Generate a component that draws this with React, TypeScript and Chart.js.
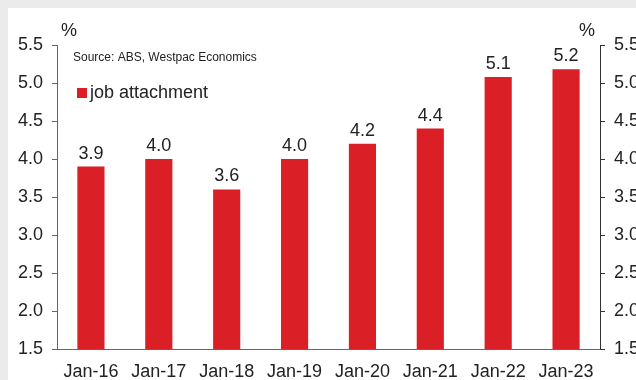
import React, { useEffect, useRef } from "react";
import { Chart, registerables } from "chart.js";

Chart.register(...registerables);

const categories = ["Jan-16", "Jan-17", "Jan-18", "Jan-19", "Jan-20", "Jan-21", "Jan-22", "Jan-23"];
const jobAttachment = [3.9, 4.0, 3.6, 4.0, 4.2, 4.4, 5.08, 5.18];
const seriesName = "job attachment";
const sourceText = "Source: ABS, Westpac Economics";
const yMin = 1.5;
const yMax = 5.5;
const yStep = 0.5;

const FONT = "'Liberation Sans', Arial, sans-serif";
const RED = "#db1f27";
const TEXT = "#222222";

const overlayPlugin = {
  id: "overlay",
  afterDatasetsDraw(chart: any) {
    const ctx = chart.ctx;
    const meta = chart.getDatasetMeta(0);
    ctx.save();
    ctx.fillStyle = TEXT;
    ctx.font = `18px ${FONT}`;
    ctx.textAlign = "center";
    ctx.textBaseline = "middle";
    meta.data.forEach((bar: any, i: number) => {
      ctx.fillText(jobAttachment[i].toFixed(1), bar.x, bar.y - 13);
    });
    ctx.restore();
  },
  afterDraw(chart: any) {
    const ctx = chart.ctx;
    const { left, right } = chart.chartArea;
    ctx.save();
    ctx.fillStyle = TEXT;
    ctx.textBaseline = "middle";
    ctx.font = `18px ${FONT}`;
    ctx.textAlign = "center";
    ctx.fillText("%", left + 12, 23);
    ctx.fillText("%", right - 13, 23);
    ctx.textAlign = "left";
    ctx.font = `12px ${FONT}`;
    ctx.fillText(sourceText, left + 16, 50);
    ctx.fillStyle = RED;
    ctx.fillRect(left + 20, 80, 10, 10);
    ctx.fillStyle = TEXT;
    ctx.font = `18px ${FONT}`;
    ctx.fillText(seriesName, left + 33, 85);
    ctx.restore();
  },
};

export default function App() {
  const ref = useRef<HTMLCanvasElement | null>(null);
  useEffect(() => {
    const tickFont = { family: FONT, size: 18 };
    const chart = new Chart(ref.current as HTMLCanvasElement, {
      type: "bar",
      data: {
        labels: categories,
        datasets: [
          {
            label: seriesName,
            data: jobAttachment,
            backgroundColor: RED,
            barPercentage: 0.4,
            categoryPercentage: 1,
            yAxisID: "y",
          },
        ],
      },
      options: {
        responsive: false,
        animation: false,
        layout: { padding: { top: 37, left: 0, right: 0, bottom: 0 } },
        plugins: { legend: { display: false }, tooltip: { enabled: false } },
        scales: {
          x: {
            grid: { display: false },
            border: { display: true, color: "#666666" },
            ticks: { color: TEXT, font: tickFont, padding: 4, maxRotation: 0, autoSkip: false },
            afterFit: (s: any) => { s.height = 31; },
          },
          y: {
            position: "left",
            min: yMin,
            max: yMax,
            grid: { drawOnChartArea: false, drawTicks: true, tickLength: 5, color: "#666666" },
            border: { display: true, color: "#666666" },
            ticks: { stepSize: yStep, color: TEXT, font: tickFont, padding: 9, callback: (v: any) => Number(v).toFixed(1) },
            afterFit: (s: any) => { s.width = 49; },
          },
          y2: {
            position: "right",
            min: yMin,
            max: yMax,
            grid: { drawOnChartArea: false, drawTicks: true, tickLength: 5, color: "#333333" },
            border: { display: true, color: "#333333" },
            ticks: { stepSize: yStep, color: TEXT, font: tickFont, padding: 9, callback: (v: any) => Number(v).toFixed(1) },
            afterFit: (s: any) => { s.width = 36; },
          },
        },
      },
      plugins: [overlayPlugin],
    });
    return () => chart.destroy();
  }, []);
  return (
    <div style={{ position: "fixed", left: 0, top: 0, width: 636, height: 380, background: "#ebebeb", overflow: "hidden" }}>
      <div style={{ position: "absolute", left: 8, top: 8, width: 628, height: 372, background: "#ffffff" }}>
        <canvas ref={ref} width={628} height={372} style={{ display: "block" }} />
      </div>
    </div>
  );
}
